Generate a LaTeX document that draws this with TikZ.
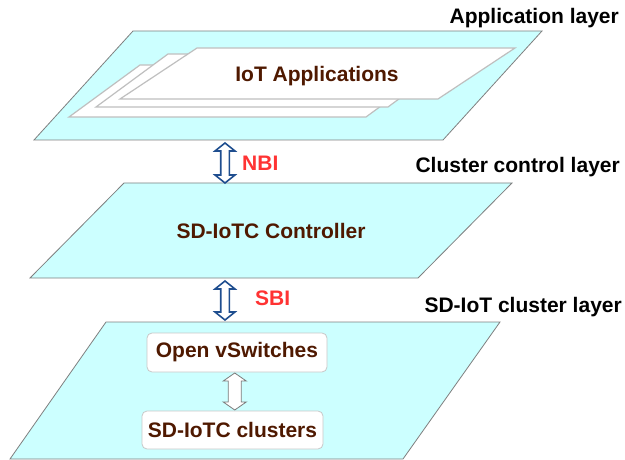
\documentclass[tikz,border=0pt]{standalone}
\usepackage{fontspec}
\setmainfont{Liberation Sans}
\usetikzlibrary{calc}

\definecolor{layerfill}{HTML}{CCFFFF}
\definecolor{layeredge}{HTML}{7F7F7F}
\definecolor{sheetedge}{HTML}{BFBFBF}
\definecolor{textbrown}{HTML}{4F1900}
\definecolor{ifred}{HTML}{FF3333}
\definecolor{ifblue}{HTML}{1F4E8F}
\definecolor{boxedge}{HTML}{C8C8C8}
\definecolor{innerarrow}{HTML}{7A7A7A}

% hollow two-headed block arrow between two named points
% #1 style, #2 upper tip, #3 lower tip, #4 half head width, #5 half shaft width, #6 head length
\newcommand\bidiarrow[6]{%
  \draw[#1] (#2) -- ($(#2)+(#4,#6)$) -- ($(#2)+(#5,#6)$) -- ($(#3)+(#5,-#6)$)
    -- ($(#3)+(#4,-#6)$) -- (#3) -- ($(#3)+(-#4,-#6)$) -- ($(#3)+(-#5,-#6)$)
    -- ($(#2)+(-#5,#6)$) -- ($(#2)+(-#4,#6)$) -- cycle;}

\tikzset{
  bigfont/.style={font=\fontsize{21}{25}\selectfont\bfseries},
  layerlabel/.style={bigfont, text=black, inner sep=0pt, anchor=base east},
  planetext/.style={bigfont, text=textbrown, inner sep=0pt, anchor=base},
  iflabel/.style={bigfont, text=ifred, inner sep=0pt, anchor=base west},
  plane/.style={fill=layerfill, draw=layeredge, line width=0.8pt, line join=miter},
  sheet/.style={fill=white, draw=sheetedge, line width=1.2pt},
  elembox/.style={bigfont, text=textbrown, fill=white, draw=boxedge, line width=0.8pt,
    rounded corners=5pt, inner sep=0pt},
  ifarrow/.style={fill=white, draw=ifblue, line width=1.6pt, line join=miter},
  linkarrow/.style={fill=white, draw=innerarrow, line width=0.8pt, line join=miter},
}

\begin{document}
\begin{tikzpicture}[x=1pt, y=-1pt]
\useasboundingbox (0,0) rectangle (625,460);

% application layer plane with stacked application sheets
\draw[plane] (133,31) -- (542,31) -- (443,140) -- (34,140) -- cycle;
\draw[sheet] (140,65) -- (437,65) -- (366,117) -- (69,117) -- cycle;
\draw[sheet] (168,54) -- (460,54) -- (388,107) -- (96,107) -- cycle;
\draw[sheet] (197,48) -- (515,48) -- (438,99) -- (120,99) -- cycle;
\node[planetext] (apps) at (317,82) {IoT Applications};
\node[layerlabel] (applayer) at (619,24) {Application layer};

% cluster control layer plane
\draw[plane] (124,183) -- (512,183) -- (418,278) -- (30,278) -- cycle;
\node[planetext] (ctrl) at (271,238) {SD-IoTC Controller};
\node[layerlabel] (ctrllayer) at (620,173) {Cluster control layer};

% SD-IoT cluster layer plane
\draw[plane] (106,322) -- (500,322) -- (403,459) -- (10,459) -- cycle;
\node[layerlabel] (clulayer) at (622,312) {SD-IoT cluster layer};
\node[elembox, minimum width=180pt, minimum height=39pt] (ovs) at (237,352.5) {Open vSwitches};
\node[elembox, minimum width=181pt, minimum height=38pt] (clu) at (232.5,430) {SD-IoTC clusters};

% northbound and southbound interfaces
\coordinate (nbiT) at (225,143);
\coordinate (nbiB) at (225,183);
\bidiarrow{ifarrow}{nbiT}{nbiB}{10}{4.3}{8}
\node[iflabel] (nbi) at (242,171) {NBI};

\coordinate (sbiT) at (225,281);
\coordinate (sbiB) at (225,320);
\bidiarrow{ifarrow}{sbiT}{sbiB}{10}{4.3}{8}
\node[iflabel] (sbi) at (255,305) {SBI};

% link between switches and clusters
\coordinate (lnkT) at ($(ovs.south)!0.5!(clu.north)+(0,-18.5)$);
\coordinate (lnkB) at ($(ovs.south)!0.5!(clu.north)+(0,18.5)$);
\bidiarrow{linkarrow}{lnkT}{lnkB}{11.5}{6.5}{8}
\end{tikzpicture}
\end{document}
